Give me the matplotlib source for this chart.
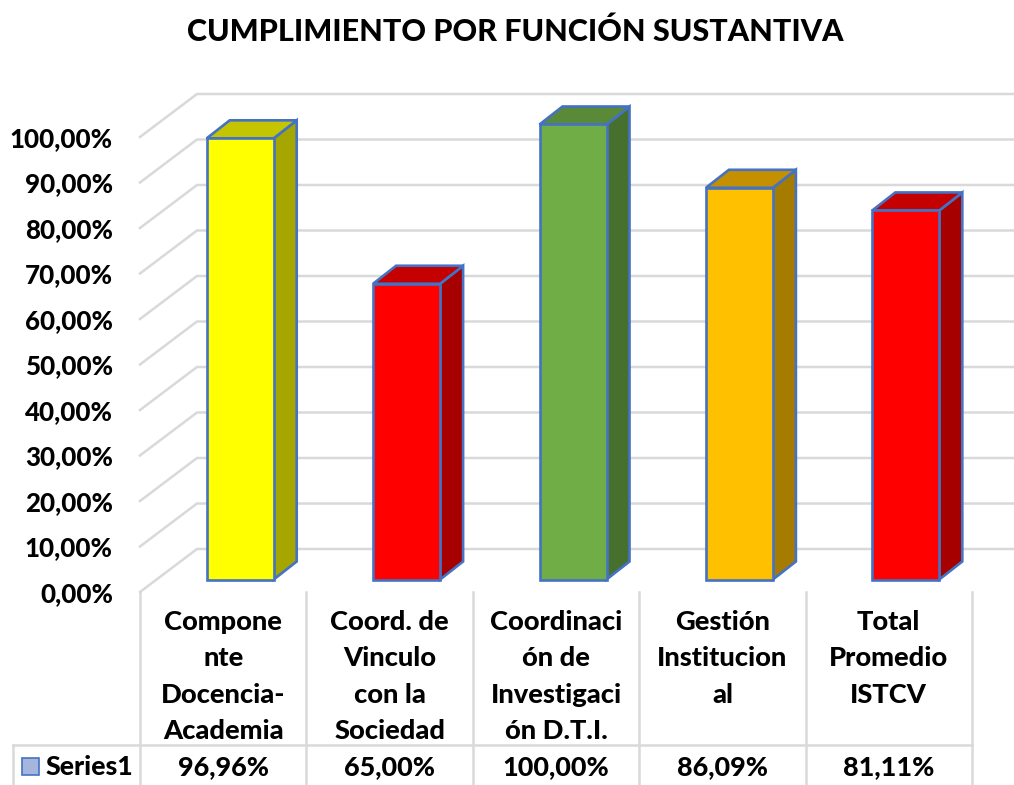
import matplotlib
matplotlib.use('Agg')
import matplotlib.pyplot as plt
from matplotlib.patches import Polygon

plt.rcParams['font.family'] = ['Lato', 'DejaVu Sans']

title = 'CUMPLIMIENTO POR FUNCIÓN SUSTANTIVA'
categories = [
    ['Compone', 'nte', 'Docencia-', 'Academia'],
    ['Coord. de', 'Vinculo', 'con la', 'Sociedad'],
    ['Coordinaci', 'ón de', 'Investigaci', 'ón D.T.I.'],
    ['Gestión', 'Institucion', 'al'],
    ['Total', 'Promedio', 'ISTCV'],
]
values = [96.96, 65.00, 100.00, 86.09, 81.11]
series_name = 'Series1'
y_ticks = [0, 10, 20, 30, 40, 50, 60, 70, 80, 90, 100]

# front, top, side colours of each bar
front_colors = ['#FFFF00', '#FF0000', '#70AD47', '#FFC000', '#FF0000']
top_colors = ['#C4C400', '#C40000', '#5A8A38', '#C49000', '#C40000']
side_colors = ['#A6A600', '#A60000', '#47702E', '#A67C00', '#A60000']
edge = '#4472C4'
grid = '#D9D9D9'
weight = 900


def pct(v):
    return ('%.2f' % v).replace('.', ',') + '%'


W, H = 1014, 785
fig = plt.figure(figsize=(W / 100, H / 100), dpi=100)

# pixel layout of the plot floor and the 100% line
left, right, y0, y100 = 140, 972, 592, 137
ax = fig.add_axes([left / W, 1 - y0 / H, (right - left) / W, (y0 - y100) / H])
ax.set_xlim(0, len(values))
ax.set_ylim(0, 100)
ax.patch.set_visible(False)
for s in ax.spines.values():
    s.set_visible(False)

px_x = (right - left) / len(values)
px_y = (y0 - y100) / 100

# 3d back wall gridlines
wall_dx, wall_dy = 57 / px_x, 43 / px_y
x_end = (W - left) / px_x
for t in y_ticks:
    ax.plot([0, wall_dx, x_end], [t, t + wall_dy, t + wall_dy], color=grid, lw=1.8,
            clip_on=False, zorder=1, solid_joinstyle='miter')

# bars
bar_w = 67 / px_x
bar_off = 66.7 / px_x
bar_base = 12.5 / px_y
dx, dy = 23 / px_x, 18 / px_y
for i, v in enumerate(values):
    x1 = i + bar_off
    x2 = x1 + bar_w
    b = bar_base
    t = b + v
    side = Polygon([(x2, b), (x2 + dx, b + dy), (x2 + dx, t + dy), (x2, t)], fc=side_colors[i])
    top = Polygon([(x1, t), (x1 + dx, t + dy), (x2 + dx, t + dy), (x2, t)], fc=top_colors[i])
    front = Polygon([(x1, b), (x2, b), (x2, t), (x1, t)], fc=front_colors[i])
    for p in (side, top, front):
        p.set_edgecolor(edge)
        p.set_linewidth(1.9)
        p.set_clip_on(False)
        p.set_zorder(3)
        ax.add_patch(p)

ax.set_xticks([])
ax.set_yticks(y_ticks)
ax.set_yticklabels([pct(t) for t in y_ticks], fontsize=18.6, fontweight=weight)
ax.tick_params(axis='y', length=0, pad=19.5)

# data table below the plot, in pixel coordinates
tb = fig.add_axes([0, 0, 1, 1])
tb.set_xlim(0, W)
tb.set_ylim(H, 0)
tb.axis('off')
tb.patch.set_visible(False)

tb.text(515, 32, title, ha='center', va='center', fontsize=22, fontweight=weight)

row_y = 745
for i in range(len(values) + 1):
    x = left + i * px_x
    tb.plot([x, x], [y0, H], color=grid, lw=1.8, zorder=1)
tb.plot([13, right], [row_y, row_y], color=grid, lw=1.8, zorder=1)
tb.plot([13, 13], [row_y, H], color=grid, lw=1.8, zorder=1)

line_h = 36.3
for i, lines in enumerate(categories):
    cx = left + (i + 0.5) * px_x
    for j, line in enumerate(lines):
        tb.text(cx, 622 + j * line_h, line, ha='center', va='center', fontsize=19.6, fontweight=weight)
    tb.text(cx, 767, pct(values[i]), ha='center', va='center', fontsize=19.4, fontweight=weight)

tb.add_patch(Polygon([(22, 758), (39, 758), (39, 775), (22, 775)], fc='#A5B5DD', ec=edge, lw=1.2))
tb.text(46, 767, series_name, ha='left', va='center', fontsize=19.3, fontweight=weight)

fig.savefig('out.png', dpi=100, facecolor='white')
